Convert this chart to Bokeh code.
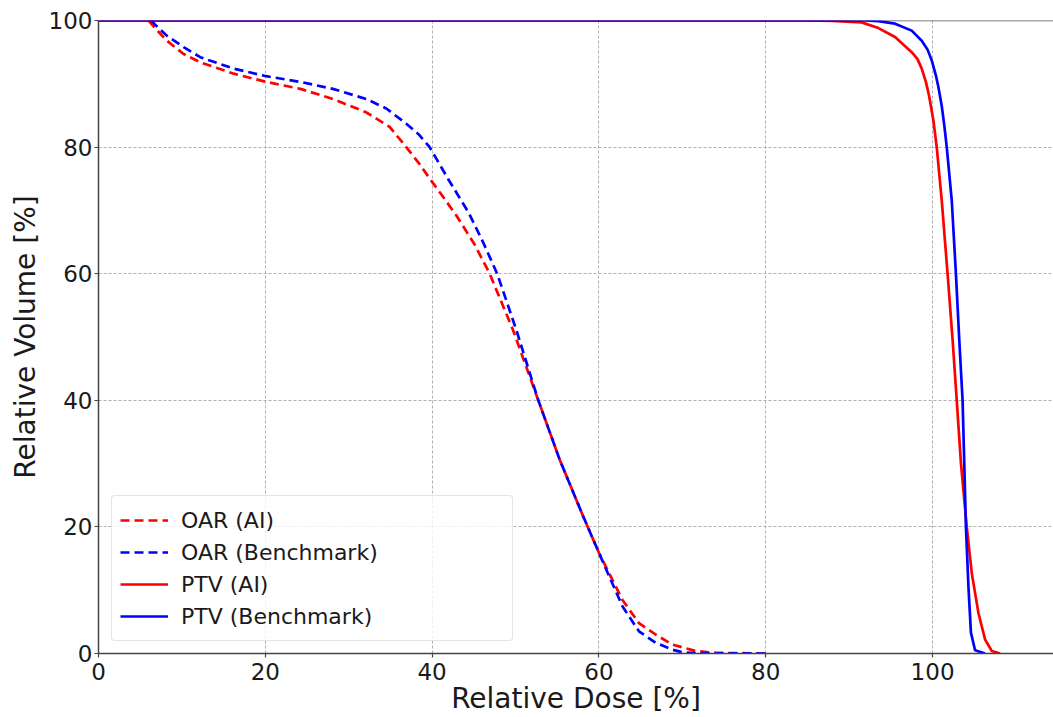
from bokeh.plotting import figure
from bokeh.models import Range1d, FixedTicker, Span, Legend
from bokeh.embed import file_html
from bokeh.resources import INLINE

# ---- data ----
oar_ai_dose = [6.0, 7.0, 8.2, 10.2, 12.2, 16.2, 20.1, 24.2, 28.1, 32.1, 34.9, 36.9, 38.5, 40.0,
               41.5, 43.0, 45.1, 46.9, 49.7, 52.7, 55.3, 58.1, 60.0, 62.8, 64.8, 66.8, 68.8, 71.6, 74.0, 80.0]
oar_ai_vol = [100.0, 98.5, 96.8, 94.7, 93.4, 91.6, 90.3, 89.2, 87.6, 85.5, 83.2, 80.0, 77.3, 74.5,
              71.8, 69.0, 64.6, 60.0, 51.1, 40.1, 30.6, 21.7, 15.9, 8.5, 4.8, 3.0, 1.4, 0.4, 0.1, 0.0]

oar_bm_dose = [6.3, 7.2, 8.2, 10.2, 12.2, 16.2, 20.1, 24.2, 28.1, 32.1, 34.5, 36.9, 38.4, 39.7, 41.9,
               44.4, 46.1, 47.8, 50.1, 52.7, 55.3, 58.1, 60.0, 62.8, 64.8, 66.8, 68.8, 70.0, 72.0, 80.0]
oar_bm_vol = [100.0, 98.8, 97.6, 95.8, 94.2, 92.4, 91.2, 90.3, 89.2, 87.6, 86.1, 83.7, 82.0, 80.0, 75.0,
              69.6, 65.0, 60.0, 51.1, 40.1, 30.6, 21.7, 15.9, 7.5, 3.5, 1.7, 0.6, 0.2, 0.05, 0.0]

ptv_ai_dose = [0.0, 85.0, 88.0, 91.5, 93.5, 95.5, 97.5, 98.2, 98.7, 99.2, 99.6, 100.1, 100.5, 101.1,
               101.8, 102.4, 102.9, 103.4, 104.1, 104.7, 105.5, 106.3, 107.1, 108.1]
ptv_ai_vol = [100.0, 100.0, 99.95, 99.7, 98.8, 97.4, 95.0, 93.9, 92.4, 90.3, 88.0, 84.2, 80.0, 71.6,
              60.0, 49.6, 40.0, 30.1, 20.0, 12.7, 6.4, 2.2, 0.4, 0.0]

ptv_bm_dose = [0.0, 92.0, 93.5, 95.5, 97.5, 98.7, 99.4, 99.9, 100.4, 100.7, 101.1, 101.4, 101.7,
               102.3, 102.8, 103.2, 103.6, 103.8, 104.0, 104.3, 104.6, 105.1, 106.3]
ptv_bm_vol = [100.0, 100.0, 99.9, 99.5, 98.4, 96.8, 95.4, 93.7, 91.3, 89.5, 86.5, 83.5, 80.0,
              71.6, 60.0, 49.6, 40.0, 30.1, 20.0, 10.6, 3.3, 0.5, 0.0]

x_ticks = [0, 20, 40, 60, 80, 100]
y_ticks = [0, 20, 40, 60, 80, 100]

FONT = "DejaVu Sans"
RED = "#ff0000"
BLUE = "#0000ff"

p = figure(width=1053, height=717, output_backend="svg", toolbar_location=None,
           x_range=Range1d(0, 114.5), y_range=Range1d(0, 100),
           min_border_left=98, min_border_right=0, min_border_top=20, min_border_bottom=63)

p.outline_line_color = None
p.background_fill_color = "white"
p.border_fill_color = "white"

for ax in (p.xaxis[0], p.yaxis[0]):
    ax.axis_line_color = "#444444"
    ax.axis_line_width = 1.5
    ax.major_tick_line_color = "#444444"
    ax.major_tick_line_width = 1.2
    ax.major_tick_out = 4
    ax.major_tick_in = 0
    ax.minor_tick_line_color = None
    ax.major_label_text_font = FONT
    ax.major_label_text_font_size = "23px"
    ax.major_label_text_color = "#1a1a1a"
    ax.axis_label_text_font = FONT
    ax.axis_label_text_font_size = "28px"
    ax.axis_label_text_font_style = "normal"
    ax.axis_label_text_color = "#1a1a1a"

p.xaxis.ticker = FixedTicker(ticks=x_ticks)
p.yaxis.ticker = FixedTicker(ticks=y_ticks)
p.xaxis.axis_label = "Relative Dose [%]"
p.yaxis.axis_label = "Relative Volume [%]"
p.xaxis.major_label_standoff = 5
p.xaxis.axis_label_standoff = -1
p.yaxis.major_label_standoff = 2
p.yaxis.axis_label_standoff = 4

for g in (p.xgrid[0], p.ygrid[0]):
    g.grid_line_color = "#b0b0b0"
    g.grid_line_width = 1
    g.grid_line_dash = "3 2"
p.xgrid.ticker = FixedTicker(ticks=x_ticks)
p.ygrid.ticker = FixedTicker(ticks=y_ticks)

# top spine
p.add_layout(Span(location=100, dimension="width", line_color="#555555",
                  line_width=1.5, level="underlay"))

r1 = p.line(oar_ai_dose, oar_ai_vol, line_color=RED, line_width=2.7, line_dash="9 5")
r2 = p.line(oar_bm_dose, oar_bm_vol, line_color=BLUE, line_width=2.7, line_dash="9 5")
r3 = p.line(ptv_ai_dose, ptv_ai_vol, line_color=RED, line_width=2.7)
r4 = p.line(ptv_bm_dose, ptv_bm_vol, line_color=BLUE, line_width=2.7)

legend = Legend(items=[("OAR (AI)", [r1]), ("OAR (Benchmark)", [r2]),
                       ("PTV (AI)", [r3]), ("PTV (Benchmark)", [r4])],
                location=(13, 12), margin=0, padding=8, spacing=0,
                glyph_height=32, glyph_width=48, label_standoff=13, label_width=323,
                label_text_font=FONT, label_text_font_size="22px",
                label_text_color="#1a1a1a",
                border_line_color="#cccccc", border_line_width=1,
                background_fill_color="white", background_fill_alpha=0.8)
try:
    legend.border_radius = 4
except Exception:
    pass
p.add_layout(legend)

open("out.html", "w").write(file_html(p, INLINE))
